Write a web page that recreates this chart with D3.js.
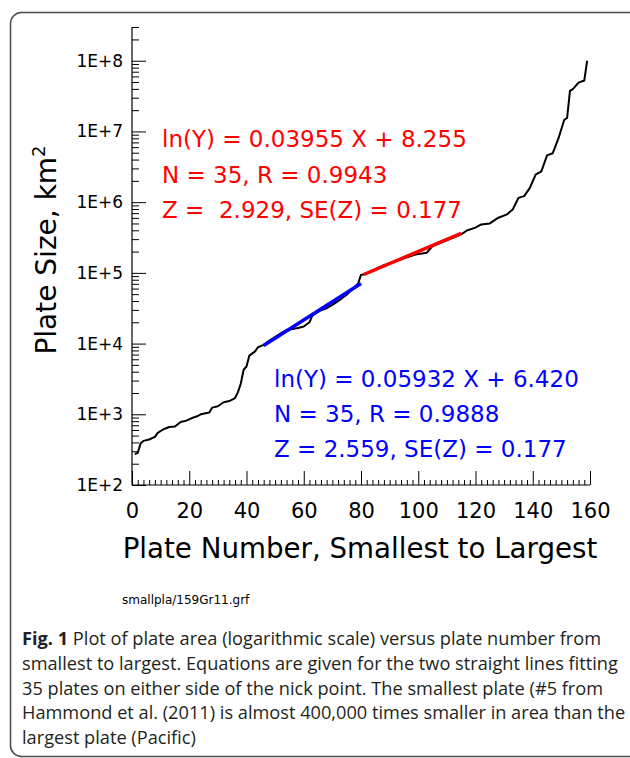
<!DOCTYPE html>
<html>
<head>
<meta charset="utf-8">
<script src="https://cdn.jsdelivr.net/npm/d3@7/dist/d3.min.js"></script>
<style>
  body { margin: 0; background: #fff; }
  svg { display: block; }
  .chart-text { font-family: "DejaVu Sans", sans-serif; }
  .caption { font-family: "Open Sans", sans-serif; fill: #231f20; }
</style>
</head>
<body>
<div id="chart"></div>
<script>
// ===== PLATE SIZE vs PLATE NUMBER =====

// plate number (sorted smallest to largest) and area in km^2
const plateNumbers = [1, 2, 3, 4, 6, 8, 9, 11, 13, 15, 17, 19, 21, 23, 24, 27, 28, 30, 32, 34,
  36, 37, 38, 39, 40, 41, 43, 44, 46, 48, 52, 54, 58, 60, 62, 63, 66, 68, 70, 73,
  75, 77, 79, 80, 81, 85, 88, 91, 94, 99, 103, 105, 110, 115, 117, 120, 122, 125, 128, 131,
  133, 135, 137, 139, 141, 143, 145, 147, 149, 151, 152, 153, 154, 156, 158, 159];
const plateAreas = [274, 285, 386, 421, 440, 479, 546, 615, 662, 670, 777, 813, 887, 946, 1000, 1057, 1242, 1297, 1478, 1539,
  1699, 2062, 2706, 4265, 4745, 6767, 7770, 8870, 9600, 11000, 13960, 15600, 16600, 17400, 20000, 24800, 29600, 31600, 35300, 42600,
  49000, 59000, 70600, 93600, 95700, 113000, 128000, 141000, 155000, 182000, 193000, 240000, 288000, 350000, 398000, 436000, 484000, 500000, 603000, 671000,
  789000, 1150000, 1216000, 1590000, 2450000, 2730000, 4580000, 4920000, 8030000, 14600000, 15500000, 37600000, 39700000, 49000000, 52500000, 100000000];

// fitted straight lines (end points of each fit)
const blueFitX = [46, 80];
const blueFitY = [9410, 70600];
const redFitX = [81, 115];
const redFitY = [94800, 363000];

const redLabels = ["ln(Y) = 0.03955 X + 8.255", "N = 35, R = 0.9943", "Z =  2.929, SE(Z) = 0.177"];
const blueLabels = ["ln(Y) = 0.05932 X + 6.420", "N = 35, R = 0.9888", "Z = 2.559, SE(Z) = 0.177"];

const xTicks = [0, 20, 40, 60, 80, 100, 120, 140, 160];
const yDecades = [1e2, 1e3, 1e4, 1e5, 1e6, 1e7, 1e8];
const yTickLabels = ["1E+2", "1E+3", "1E+4", "1E+5", "1E+6", "1E+7", "1E+8"];

const captionLines = [
  "Plot of plate area (logarithmic scale) versus plate number from",
  "smallest to largest. Equations are given for the two straight lines fitting",
  "35 plates on either side of the nick point. The smallest plate (#5 from",
  "Hammond et al. (2011) is almost 400,000 times smaller in area than the",
  "largest plate (Pacific)"
];

const width = 630;
const height = 758;

const svg = d3.select('#chart')
  .append('svg')
  .attr('width', width)
  .attr('height', height);

// frame round the figure (runs off the right edge)
svg.append('rect')
  .attr('x', 10.5)
  .attr('y', 12.5)
  .attr('width', 660)
  .attr('height', 744)
  .attr('rx', 11)
  .attr('fill', 'none')
  .attr('stroke', '#4a4a4a')
  .attr('stroke-width', 1.5);

const x = d3.scaleLinear().domain([0, 160]).range([132, 590]);
const y = d3.scaleLog().domain([100, 3e8]).range([485, 27]);

// minor ticks
const yMinor = [];
for (let e = 2; e <= 8; e++) {
  for (let m = 2; m <= 9; m++) {
    const v = m * Math.pow(10, e);
    if (v <= 3e8) yMinor.push(v);
  }
}
const xMinor = d3.range(0, 161, 2).filter(d => d % 20 !== 0);

const axisG = svg.append('g').attr('class', 'chart-text');

axisG.append('g')
  .attr('transform', `translate(${x(0)},0)`)
  .call(d3.axisLeft(y).tickValues(yMinor).tickSizeInner(-7).tickSizeOuter(0).tickFormat(''))
  .call(g => g.select('.domain').remove());

axisG.append('g')
  .attr('transform', `translate(0,${y(100)})`)
  .call(d3.axisBottom(x).tickValues(xMinor).tickSizeInner(-5).tickSizeOuter(0).tickFormat(''))
  .call(g => g.select('.domain').remove());

// major y axis
const yAxis = axisG.append('g')
  .attr('transform', `translate(${x(0)},0)`)
  .call(d3.axisLeft(y).tickValues(yDecades).tickSizeInner(-14).tickSizeOuter(0).tickPadding(9)
    .tickFormat((d, i) => yTickLabels[i]));
yAxis.select('.domain').attr('d', `M0,${y(3e8)}V${y(100)}`);
yAxis.selectAll('text')
  .attr('font-size', 17)
  .attr('font-family', '"DejaVu Sans", sans-serif')
  .attr('fill', '#000');

// major x axis
const xAxis = axisG.append('g')
  .attr('transform', `translate(0,${y(100)})`)
  .call(d3.axisBottom(x).tickValues(xTicks).tickSizeInner(-14).tickSizeOuter(0).tickPadding(18));
xAxis.select('.domain').attr('d', `M${x(0)},0H${x(160)}`);
xAxis.selectAll('text')
  .attr('font-size', 21)
  .attr('font-family', '"DejaVu Sans", sans-serif')
  .attr('fill', '#000');

axisG.selectAll('.tick line').attr('stroke', '#000').attr('stroke-width', 1);
axisG.selectAll('.domain').attr('stroke', '#000').attr('stroke-width', 1.2);

// axis titles
svg.append('text')
  .attr('class', 'chart-text')
  .attr('x', 360)
  .attr('y', 558)
  .attr('text-anchor', 'middle')
  .attr('font-size', 27.7)
  .text('Plate Number, Smallest to Largest');

const yTitle = svg.append('text')
  .attr('class', 'chart-text')
  .attr('transform', 'translate(56,250) rotate(-90)')
  .attr('text-anchor', 'middle')
  .attr('font-size', 28);
yTitle.append('tspan').text('Plate Size, km');
yTitle.append('tspan').attr('font-size', 18).attr('dy', -11).text('2');

// data curve
const line = d3.line()
  .x(d => x(d[0]))
  .y(d => y(d[1]));

const curve = plateNumbers.map((n, i) => [n, plateAreas[i]]);

svg.append('path')
  .attr('d', line(curve))
  .attr('fill', 'none')
  .attr('stroke', '#000')
  .attr('stroke-width', 2)
  .attr('stroke-linejoin', 'round');

// fitted lines
svg.append('path')
  .attr('d', line(blueFitX.map((n, i) => [n, blueFitY[i]])))
  .attr('stroke', '#0000ff')
  .attr('stroke-width', 3.5);

svg.append('path')
  .attr('d', line(redFitX.map((n, i) => [n, redFitY[i]])))
  .attr('stroke', '#ff0000')
  .attr('stroke-width', 3.5);

// equation labels
const redBase = [147, 183, 218];
const blueBase = [387, 422, 457];

svg.append('g').selectAll('text')
  .data(redLabels)
  .join('text')
  .attr('class', 'chart-text')
  .attr('x', 162)
  .attr('y', (d, i) => redBase[i])
  .attr('font-size', 23)
  .attr('fill', '#ff0000')
  .style('white-space', 'pre')
  .text(d => d);

svg.append('g').selectAll('text')
  .data(blueLabels)
  .join('text')
  .attr('class', 'chart-text')
  .attr('x', 274)
  .attr('y', (d, i) => blueBase[i])
  .attr('font-size', 23)
  .attr('fill', '#0000ff')
  .style('white-space', 'pre')
  .text(d => d);

// file name under the plot
svg.append('text')
  .attr('class', 'chart-text')
  .attr('x', 122)
  .attr('y', 604)
  .attr('font-size', 12)
  .text('smallpla/159Gr11.grf');

// figure caption
const capBase = 645;
captionLines.forEach((t, i) => {
  const txt = svg.append('text')
    .attr('class', 'caption')
    .attr('x', 22)
    .attr('y', capBase + i * 24.8)
    .attr('font-size', 18.2);
  if (i === 0) {
    txt.append('tspan').attr('font-weight', 'bold').text('Fig. 1');
    txt.append('tspan').text(' ' + t);
  } else {
    txt.text(t);
  }
});
</script>
</body>
</html>
